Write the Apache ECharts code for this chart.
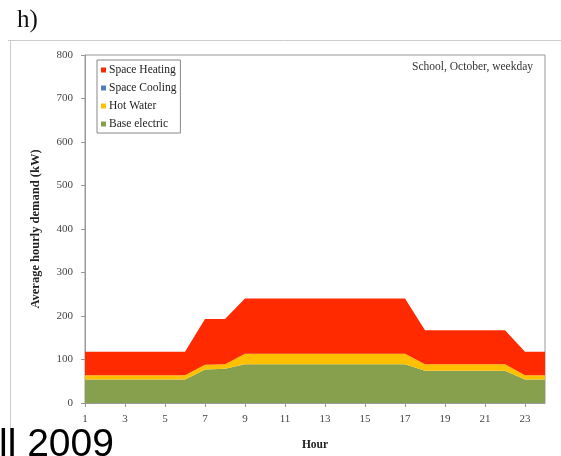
<!DOCTYPE html>
<html>
<head>
<meta charset="utf-8">
<script src="https://cdn.jsdelivr.net/npm/echarts@6/dist/echarts.min.js"></script>
<style>
  html, body { margin: 0; padding: 0; background: #fff; }
  #chart { width: 561px; height: 456px; }
</style>
</head>
<body>
<div id="chart"></div>
<script>
// Hours of the day (1..24)
const hours = ['1','2','3','4','5','6','7','8','9','10','11','12','13','14','15','16','17','18','19','20','21','22','23','24'];

// Average hourly demand components (kW), school, October, weekday
const baseElectric = [54,54,54,54,54,54,77,79,89,89,89,89,89,89,89,89,89,74,74,74,74,74,54,54];
const hotWater     = [10,10,10,10,10,10,11,10,24,24,24,24,24,24,24,24,24,15,15,15,15,15,10,10];
const spaceCooling = [0,0,0,0,0,0,0,0,0,0,0,0,0,0,0,0,0,0,0,0,0,0,0,0];
const spaceHeating = [54,54,54,54,54,54,105,104,127,127,127,127,127,127,127,127,127,78,78,78,78,78,54,54];

const serif = '"Liberation Serif", "DejaVu Serif", serif';
const colors = {
  heating: '#ff2a00',
  cooling: '#4f81bd',
  hot: '#ffc000',
  base: '#86a04e'
};

function areaSeries(name, data, color) {
  return {
    name: name,
    type: 'line',
    stack: 'demand',
    data: data,
    symbol: 'none',
    lineStyle: { width: 0 },
    itemStyle: { color: color },
    areaStyle: { color: color, opacity: 1 },
    emphasis: { disabled: true }
  };
}

const chart = echarts.init(document.getElementById('chart'), null, { renderer: 'canvas' });
chart.setOption({
  animation: false,
  backgroundColor: '#fff',
  grid: {
    left: 85, right: 16, top: 55, bottom: 45,
    show: true, borderColor: '#999', borderWidth: 1
  },
  legend: {
    left: 97, top: 60,
    orient: 'vertical',
    data: ['Space Heating', 'Space Cooling', 'Hot Water', 'Base electric'],
    icon: 'rect',
    itemWidth: 5, itemHeight: 5,
    itemGap: 6,
    padding: [4, 4, 3, 4],
    borderColor: '#888', borderWidth: 1,
    textStyle: { fontFamily: serif, fontSize: 11.5, color: '#222', padding: [0, 0, 0, -2] },
    selectedMode: false
  },
  xAxis: {
    type: 'category',
    data: hours,
    boundaryGap: false,
    name: 'Hour',
    nameLocation: 'middle',
    nameGap: 36,
    nameTextStyle: { fontFamily: serif, fontSize: 11.5, fontWeight: 'bold', color: '#222' },
    axisLine: { lineStyle: { color: '#999' } },
    axisTick: { show: true, interval: 1, length: 4, lineStyle: { color: '#999' } },
    axisLabel: { interval: 1, margin: 11, fontFamily: serif, fontSize: 11, color: '#444' },
    splitLine: { show: false }
  },
  yAxis: {
    type: 'value',
    min: 0, max: 800, interval: 100,
    name: 'Average hourly demand (kW)',
    nameLocation: 'middle',
    nameGap: 43,
    nameTextStyle: { fontFamily: serif, fontSize: 12.5, fontWeight: 'bold', color: '#222' },
    axisLine: { show: true, lineStyle: { color: '#999' } },
    axisTick: { show: true, length: 4, lineStyle: { color: '#999' } },
    axisLabel: { margin: 12, fontFamily: serif, fontSize: 11, color: '#444' },
    splitLine: { show: false }
  },
  series: [
    areaSeries('Base electric', baseElectric, colors.base),
    areaSeries('Hot Water', hotWater, colors.hot),
    areaSeries('Space Cooling', spaceCooling, colors.cooling),
    areaSeries('Space Heating', spaceHeating, colors.heating)
  ],
  graphic: [
    {
      type: 'polyline', silent: true,
      shape: { points: [[8, 40.5], [561, 40.5]] },
      style: { stroke: '#ccc', lineWidth: 1 }
    },
    {
      type: 'polyline', silent: true,
      shape: { points: [[10.5, 40], [10.5, 456]] },
      style: { stroke: '#ccc', lineWidth: 1 }
    },
    {
      type: 'text', left: 17, top: 8, silent: true,
      style: { text: 'h)', font: '25px ' + serif, fill: '#111' }
    },
    {
      type: 'text', silent: true,
      style: {
        x: 533, y: 67, text: 'School, October, weekday',
        font: '11.5px ' + serif, fill: '#333',
        textAlign: 'right', textVerticalAlign: 'middle'
      }
    },
    {
      type: 'text', silent: true, z: 100,
      style: {
        x: -1, y: 465, text: 'll 2009',
        font: '39px "Liberation Sans", Arial, sans-serif', fill: '#000',
        textAlign: 'left', textVerticalAlign: 'bottom'
      }
    }
  ]
});
</script>
</body>
</html>
